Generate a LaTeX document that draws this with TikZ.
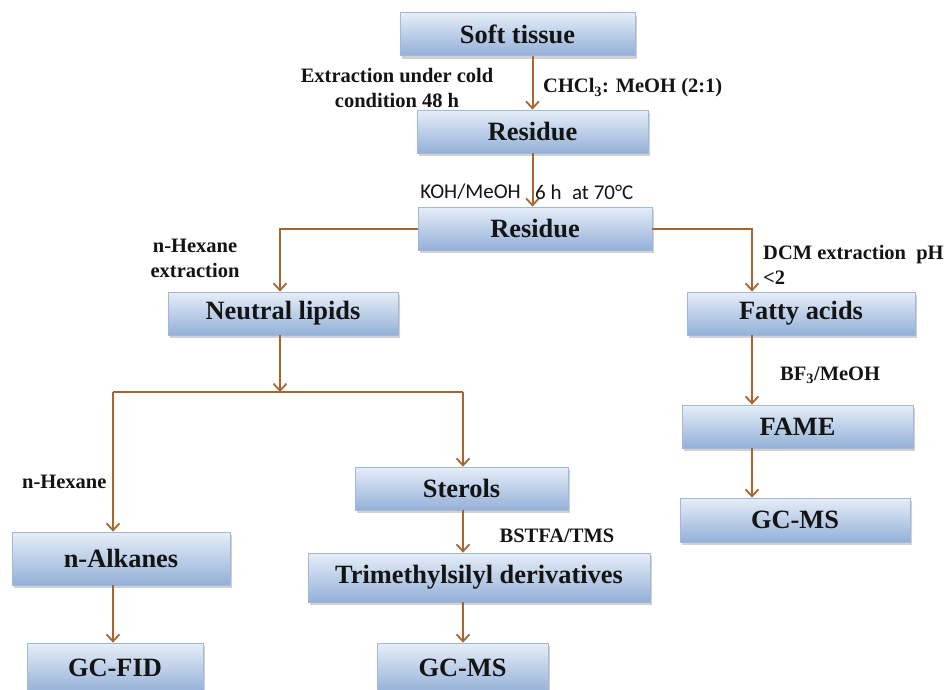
\documentclass[tikz,border=0pt]{standalone}
\usepackage{fontspec}
\setmainfont{Liberation Serif}
\newfontfamily\calfont{Carlito}
\usetikzlibrary{arrows.meta,shadows,calc}
\definecolor{boxblue}{HTML}{93B0D8}
\definecolor{boxtop}{HTML}{E6EEF8}
\definecolor{boxedge}{HTML}{A3B8D6}
\definecolor{arrbrown}{HTML}{A8652F}
\definecolor{txt}{HTML}{141414}
\begin{document}
\begin{tikzpicture}[x=1pt,y=-1pt,
  box/.style={rectangle, inner sep=0pt, draw=boxedge, line width=0.8pt,
    top color=boxtop, bottom color=boxblue, shading angle=0,
    drop shadow={shadow xshift=2pt, shadow yshift=-3pt, opacity=0.45, fill=gray!80},
    font=\fontsize{26.4}{30}\selectfont\bfseries, text=txt},
  lbl/.style={inner sep=0pt, font=\fontsize{20.5}{25}\selectfont\bfseries, text=txt},
  slbl/.style={inner sep=0pt, font=\fontsize{21}{25}\selectfont\calfont, text=txt},
  arr/.style={draw=arrbrown, line width=2pt, -{Straight Barb[length=7pt,width=13pt,line width=1.8pt]}},
  ln/.style={draw=arrbrown, line width=2pt}]
\clip (0,0) rectangle (949,689);
\fill[white] (0,0) rectangle (949,689);
% boxes
\node[box, minimum width=235, minimum height=43] (soft) at (517.5,34) {Soft tissue};
\node[box, minimum width=231, minimum height=43] (res1) at (532.5,131.5) {Residue};
\node[box, minimum width=234, minimum height=43] (res2) at (535,228.5) {Residue};
\node[box, minimum width=230, minimum height=43] (nl) at (283,313.5) {Neutral lipids};
\node[box, minimum width=228, minimum height=43] (fa) at (801,313.5) {Fatty acids};
\node[box, minimum width=231, minimum height=43] (fame) at (797.5,426.5) {FAME};
\node[box, minimum width=230, minimum height=44] (gcms1) at (795,520) {GC-MS};
\node[box, minimum width=213, minimum height=43] (ster) at (461.5,488.5) {Sterols};
\node[box, minimum width=218, minimum height=53] (alk) at (121,558.5) {n-Alkanes};
\node[box, minimum width=342, minimum height=49] (tms) at (479,577.5) {Trimethylsilyl derivatives};
\node[box, minimum width=176, minimum height=50] (gcfid) at (115,668) {GC-FID};
\node[box, minimum width=171, minimum height=50] (gcms2) at (462.5,668) {GC-MS};
% helper coordinates
\coordinate (rx) at (752,0);
\coordinate (jn) at (280,392);
\coordinate (jl) at (113,392);
\coordinate (jr) at (463,392);
% connectors
\draw[arr] (soft.south -| res1.north) -- (res1.north);
\draw[arr] (res1.south) -- (res1.south |- res2.north);
\draw[ln] (res2.west) -| (jn |- 0,240);
\draw[arr] (res2.west -| jn) -- (jn |- nl.north);
\draw[ln] (res2.east) -| (rx |- 0,240);
\draw[arr] (res2.east -| rx) -- (rx |- fa.north);
\draw[arr] (jn |- nl.south) -- (jn);
\draw[ln] (jl) -- (jr);
\draw[arr] (jl) -- (jl |- alk.north);
\draw[arr] (jr) -- (jr |- ster.north);
\draw[arr] (rx |- fa.south) -- (rx |- fame.north);
\draw[arr] (rx |- fame.south) -- (rx |- gcms1.north);
\draw[arr] (jl |- alk.south) -- (jl |- gcfid.north);
\draw[arr] (jr |- ster.south) -- (jr |- tms.north);
\draw[arr] (jr |- tms.south) -- (jr |- gcms2.north);
% labels
\node[lbl, align=center] (l1) at (397,88) {Extraction under cold\\condition 48 h};
\node[lbl, anchor=west] (l2) at (543,88) {CHCl\textsubscript{3}: MeOH (2:1)};
\node[slbl, anchor=east] (l3) at (521,192) {KOH/MeOH};
\node[slbl, anchor=west] (l4) at (535,192) {6 h\,\,\,at 70°C};
\node[lbl, align=center] (l5) at (195,258.5) {n-Hexane\\extraction};
\node[lbl, align=left, anchor=west] (l6) at (763,265) {DCM extraction\ \ pH\\<2};
\node[lbl, anchor=west] (l7) at (780,375) {BF\textsubscript{3}/MeOH};
\node[lbl, anchor=west] (l8) at (22,482) {n-Hexane};
\node[lbl] (l9) at (557,536) {BSTFA/TMS};
\end{tikzpicture}
\end{document}
